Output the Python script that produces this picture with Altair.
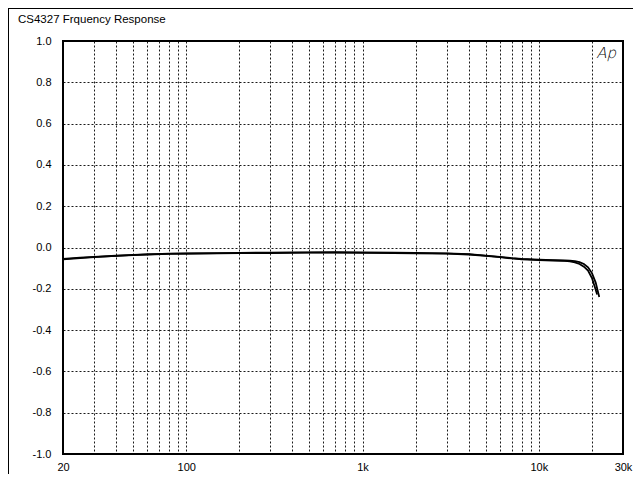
import altair as alt
import pandas as pd

title_text = "CS4327 Frquency Response"
logo_text = "Ap"

freq_a = [20, 25, 30, 40, 50, 60, 80, 100, 150, 200, 300, 400, 500, 700, 1000,
          1500, 2000, 3000, 4000, 5000, 6000, 7000, 8000, 10000, 12000, 14000,
          15000, 16000, 17000, 18000, 19000, 20000, 21000, 22000]
level_a = [-0.055, -0.049, -0.045, -0.040, -0.036, -0.033, -0.030, -0.029,
           -0.027, -0.026, -0.025, -0.024, -0.024, -0.023, -0.024,
           -0.025, -0.026, -0.028, -0.032, -0.039, -0.045, -0.051, -0.055,
           -0.059, -0.061, -0.063,
           -0.064, -0.066, -0.071, -0.080, -0.096, -0.124, -0.170, -0.240]

freq_b = [20, 25, 30, 40, 50, 60, 80, 100, 150, 200, 300, 400, 500, 700, 1000,
          1500, 2000, 3000, 4000, 5000, 6000, 7000, 8000, 10000, 12000, 14000,
          15000, 16000, 17000, 18000, 19000, 20000, 21000, 21400]
level_b = [-0.058, -0.051, -0.047, -0.041, -0.037, -0.034, -0.031, -0.030,
           -0.028, -0.027, -0.027, -0.026, -0.025, -0.025, -0.026,
           -0.027, -0.028, -0.030, -0.034, -0.041, -0.047, -0.053, -0.057,
           -0.061, -0.063, -0.065,
           -0.067, -0.072, -0.080, -0.093, -0.112, -0.148, -0.205, -0.228]

y_ticks = [-1.0, -0.8, -0.6, -0.4, -0.2, 0.0, 0.2, 0.4, 0.6, 0.8, 1.0]
x_grid = [20, 30, 40, 50, 60, 70, 80, 90,
          100, 200, 300, 400, 500, 600, 700, 800, 900,
          1000, 2000, 3000, 4000, 5000, 6000, 7000, 8000, 9000,
          10000, 20000, 30000]
x_label_vals = [20, 100, 1000, 10000, 30000]
x_label_text = ["20", "100", "1k", "10k", "30k"]

df = pd.concat([
    pd.DataFrame({"freq": freq_a, "level": level_a, "ch": "A"}),
    pd.DataFrame({"freq": freq_b, "level": level_b, "ch": "B"}),
])

label_expr = " : ".join(
    f"datum.value == {v} ? '{t}'" for v, t in zip(x_label_vals, x_label_text)
) + " : ''"

FONT = "Liberation Sans"
GRID = "#1a1a1a"

x_enc = alt.X(
    "freq:Q",
    scale=alt.Scale(type="log", domain=[20, 30000], nice=False),
    axis=alt.Axis(
        values=x_grid, labelExpr=label_expr, title=None, grid=True,
        ticks=False, domain=False, labelOverlap=False, labelFlush=False,
        labelPadding=7, labelFont=FONT, labelFontSize=11, labelColor="black",
        gridColor=GRID, gridDash=[2, 2], gridWidth=1,
        gridOpacity={"condition": {"test": "datum.value == 20 || datum.value == 30000", "value": 0}, "value": 1},
    ),
)
y_enc = alt.Y(
    "level:Q",
    scale=alt.Scale(domain=[-1.0, 1.0], nice=False, zero=False),
    axis=alt.Axis(
        values=y_ticks, title=None, grid=True, ticks=False,
        labelExpr="replace(format(datum.value, '.1f'), '\u2212', '-')",
        domain=False, labelFlush=False, labelPadding=12, labelFont=FONT,
        labelFontSize=11, labelColor="black",
        gridColor=GRID, gridDash=[2, 2], gridWidth=1,
        gridOpacity={"condition": {"test": "abs(datum.value) > 0.99", "value": 0}, "value": 1},
    ),
)

lines = alt.Chart(df).mark_line(color="black", strokeWidth=1.8, clip=True).encode(
    x=x_enc, y=y_enc, detail="ch:N"
)

one = pd.DataFrame({"a": [0]})

border = alt.Chart(one).mark_rect(filled=False, stroke="black", strokeWidth=2).encode(
    x=alt.value(0), x2=alt.value(560), y=alt.value(0), y2=alt.value(413)
)

title = alt.Chart(pd.DataFrame({"t": [title_text]})).mark_text(
    align="left", baseline="alphabetic", font=FONT, fontSize=11.5, color="black"
).encode(text="t:N", x=alt.value(-45), y=alt.value(-18))

logo = alt.Chart(pd.DataFrame({"t": [logo_text]})).mark_text(
    align="right", baseline="alphabetic", font="DejaVu Sans ExtraLight, DejaVu Sans Light, Lato Light, sans-serif",
    fontSize=15, fontWeight=300, fontStyle="italic", color="black"
).encode(text="t:N", x=alt.value(553), y=alt.value(17))

frame_left = alt.Chart(one).mark_rule(color="black", strokeWidth=1).encode(
    x=alt.value(-54.5), y=alt.value(-33), y2=alt.value(460)
)
frame_top = alt.Chart(one).mark_rule(color="black", strokeWidth=1).encode(
    y=alt.value(-32.5), x=alt.value(-55), x2=alt.value(580)
)

chart = alt.layer(lines, border, title, logo, frame_left, frame_top).properties(
    width=560, height=413,
    padding={"left": 55, "top": 33, "right": 10, "bottom": 20},
    autosize=alt.AutoSizeParams(type="none"),
).configure_view(stroke=None).configure(background="white")

chart.save("out.html", embed_options={"renderer": "svg", "actions": False})
